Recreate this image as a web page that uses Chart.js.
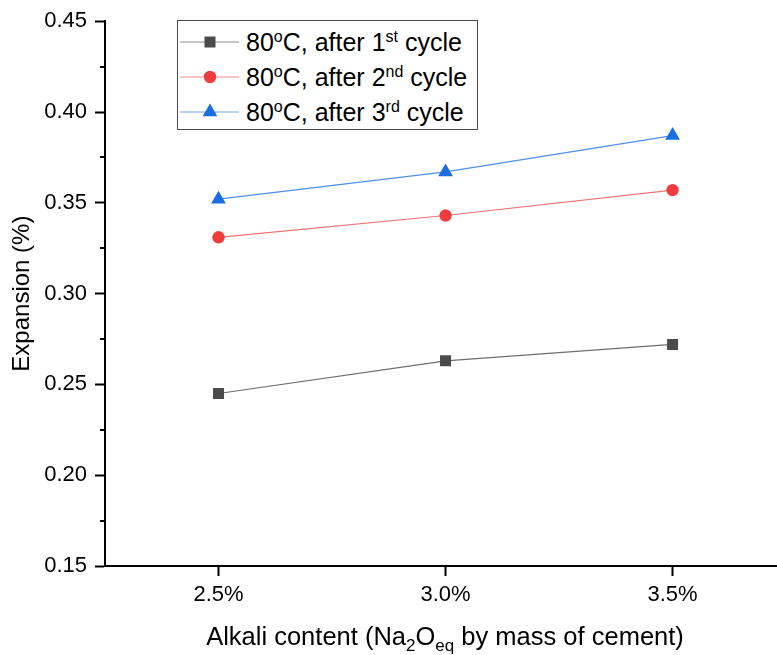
<!DOCTYPE html>
<html>
<head>
<meta charset="utf-8">
<script src="https://cdn.jsdelivr.net/npm/chart.js@4.4.0/dist/chart.umd.min.js"></script>
<style>
  html, body { margin: 0; padding: 0; background: #fff; }
  #wrap { position: relative; width: 777px; height: 655px; font-family: "Liberation Sans", Arial, sans-serif; color: #000; overflow: hidden; }
  #c { position: absolute; left: 0; top: 0; }
  #legend { position: absolute; left: 177px; top: 20px; width: 299px; height: 108px; border: 1px solid #4a4a4a; background: #fff; }
  .row { position: absolute; left: 0; height: 35px; width: 299px; }
  .row svg { position: absolute; left: 2px; top: 0; }
  .row span { position: absolute; left: 68px; top: 4px; font-size: 25px; line-height: 28px; white-space: nowrap; }
  sup { font-size: 16px; position: relative; top: -9px; vertical-align: baseline; }
  #xtitle { position: absolute; left: 0; width: 890px; text-align: center; top: 624px; font-size: 25.5px; line-height: 25px; white-space: nowrap; }
  #xtitle sub { font-size: 17px; position: relative; top: 6px; vertical-align: baseline; }
</style>
</head>
<body>
<div id="wrap">
  <canvas id="c" width="777" height="655"></canvas>
  <div id="legend"></div>
  <div id="xtitle">Alkali content (Na<sub>2</sub>O<sub>eq</sub> by mass of cement)</div>
</div>
<script>
// ---- data ----
const alkali = [2.5, 3.0, 3.5];
const cycle1 = [0.245, 0.263, 0.272];
const cycle2 = [0.331, 0.343, 0.357];
const cycle3 = [0.352, 0.367, 0.387];
const xTickValues = [2.5, 3.0, 3.5];
const yTickValues = [0.15, 0.20, 0.25, 0.30, 0.35, 0.40, 0.45];
const yMinorValues = [0.175, 0.225, 0.275, 0.325, 0.375, 0.425];
const seriesLabels = ['80oC, after 1st cycle', '80oC, after 2nd cycle', '80oC, after 3rd cycle'];
const legendHtml = ['80<sup>o</sup>C, after 1<sup>st</sup> cycle', '80<sup>o</sup>C, after 2<sup>nd</sup> cycle', '80<sup>o</sup>C, after 3<sup>rd</sup> cycle'];

const styles = [
  { marker: '#4b4b4b', line: '#6e6e6e', pointStyle: 'rect', radius: 7.8 },
  { marker: '#f03c3c', line: '#f27272', pointStyle: 'circle', radius: 6.2 },
  { marker: '#1a6edf', line: '#4f8fe8', pointStyle: 'triangle', radius: 8.5 }
];
const values = [cycle1, cycle2, cycle3];

const datasets = values.map((arr, i) => ({
  label: seriesLabels[i],
  data: alkali.map((x, j) => ({ x: x, y: arr[j] })),
  borderColor: styles[i].line,
  backgroundColor: styles[i].marker,
  pointBackgroundColor: styles[i].marker,
  pointBorderColor: styles[i].marker,
  pointBorderWidth: 0,
  pointStyle: styles[i].pointStyle,
  pointRadius: styles[i].radius,
  borderWidth: 1.2,
  showLine: true,
  tension: 0
}));

// legend (HTML, real text)
const legend = document.getElementById('legend');
styles.forEach((s, i) => {
  const row = document.createElement('div');
  row.className = 'row';
  row.style.top = (3 + i * 35) + 'px';
  let mk = '';
  const cx = 30, cy = 18;
  if (s.pointStyle === 'rect') mk = `<rect x="${cx-5.5}" y="${cy-5.5}" width="11" height="11" fill="${s.marker}"/>`;
  else if (s.pointStyle === 'circle') mk = `<circle cx="${cx}" cy="${cy}" r="6.2" fill="${s.marker}"/>`;
  else mk = `<polygon points="${cx},${cy-8.5} ${cx+7.36},${cy+4.25} ${cx-7.36},${cy+4.25}" fill="${s.marker}"/>`;
  row.innerHTML = `<svg width="60" height="35"><line x1="0" y1="${cy}" x2="59" y2="${cy}" stroke="${s.line}" stroke-width="1.2" opacity="0.8"/>${mk}</svg><span>${legendHtml[i]}</span>`;
  legend.appendChild(row);
});

const minorTicks = {
  id: 'minorTicks',
  afterDraw(chart) {
    const y = chart.scales.y;
    const ctx = chart.ctx;
    const left = chart.chartArea.left;
    ctx.save();
    ctx.strokeStyle = '#000';
    ctx.lineWidth = 2;
    yMinorValues.forEach(v => {
      const py = Math.round(y.getPixelForValue(v));
      ctx.beginPath();
      ctx.moveTo(left - 5, py);
      ctx.lineTo(left, py);
      ctx.stroke();
    });
    ctx.restore();
  }
};

new Chart(document.getElementById('c'), {
  type: 'scatter',
  data: { datasets: datasets },
  options: {
    responsive: false,
    devicePixelRatio: 1,
    animation: false,
    layout: { autoPadding: false, padding: { top: 19, right: 0, left: 0, bottom: 0 } },
    plugins: { legend: { display: false }, tooltip: { enabled: false } },
    scales: {
      x: {
        type: 'linear',
        min: 2.25,
        max: 3.73,
        afterBuildTicks: (scale) => { scale.ticks = xTickValues.map(v => ({ value: v })); },
        afterFit: (scale) => { scale.height = 89; },
        ticks: {
          callback: (v) => Number(v).toFixed(1) + '%',
          font: { family: 'Liberation Sans', size: 22 },
          color: '#000',
          padding: 6,
          maxRotation: 0,
          autoSkip: false
        },
        grid: { drawOnChartArea: false, tickLength: 10, tickWidth: 2, tickColor: '#000' },
        border: { color: '#000', width: 2 }
      },
      y: {
        min: 0.15,
        max: 0.45,
        afterBuildTicks: (scale) => { scale.ticks = yTickValues.map(v => ({ value: v })); },
        afterFit: (scale) => { scale.width = 105; },
        ticks: {
          callback: (v) => Number(v).toFixed(2),
          font: { family: 'Liberation Sans', size: 22 },
          color: '#000',
          padding: 8,
          autoSkip: false
        },
        grid: { drawOnChartArea: false, tickLength: 10, tickWidth: 2, tickColor: '#000' },
        border: { color: '#000', width: 2 },
        title: {
          display: true,
          text: 'Expansion (%)',
          font: { family: 'Liberation Sans', size: 24 },
          color: '#000',
          padding: { top: 8, bottom: 0 }
        }
      }
    }
  },
  plugins: [minorTicks]
});
</script>
</body>
</html>
